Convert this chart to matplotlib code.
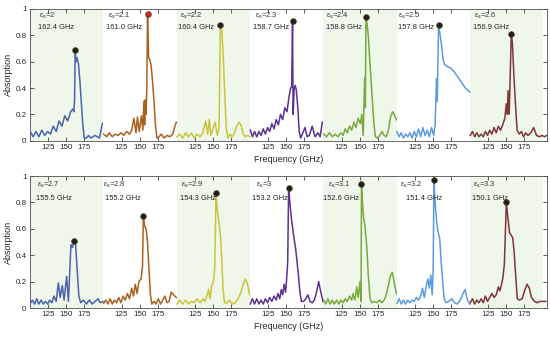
import numpy as np
import matplotlib.pyplot as plt

plt.rcParams['font.family'] = ['Liberation Sans', 'DejaVu Sans']

# spacing of the seven sub-panels along one shared x axis (GHz)
SEG = 101.85
XLIM = (99.6, 817.6)

# ---------------- data ----------------
eps_top = ['2', '2.1', '2.2', '2.3', '2.4', '2.5', '2.6']
res_top = [162.4, 161.0, 160.4, 158.7, 158.8, 157.8, 156.9]
eps_bot = ['2.7', '2.8', '2.9', '3', '3.1', '3.2', '3.3']
res_bot = [155.5, 155.2, 154.3, 153.2, 152.6, 151.4, 150.1]

# eps = 2.0
f_20 = [100, 104, 108, 112, 116, 120, 124, 128, 132, 136, 140, 144, 148, 152, 156, 159, 160.5, 161.5, 162.4, 163.5,
        165, 167, 169, 171, 173, 175, 178, 181, 184, 187, 190, 193, 196, 198, 200]
a_20 = [0.07, 0.03, 0.07, 0.03, 0.08, 0.04, 0.07, 0.05, 0.11, 0.07, 0.15, 0.11, 0.19, 0.15, 0.22, 0.24, 0.22, 0.30, 0.69, 0.60,
        0.63, 0.58, 0.45, 0.28, 0.12, 0.02, 0.02, 0.04, 0.02, 0.03, 0.04, 0.03, 0.02, 0.07, 0.13]
# eps = 2.1
f_21 = [100, 104, 108, 112, 116, 120, 124, 128, 132, 136, 139, 142, 145, 147, 149.5, 152.5, 154.5, 156, 157, 158,
        159, 160, 161, 162.5, 164, 166, 168, 170, 172, 174, 177, 180, 184, 188, 192, 196, 199, 201]
a_21 = [0.05, 0.03, 0.06, 0.03, 0.05, 0.04, 0.06, 0.04, 0.07, 0.05, 0.08, 0.17, 0.06, 0.18, 0.07, 0.19, 0.08, 0.30, 0.12, 0.31,
        0.20, 0.40, 0.96, 0.63, 0.62, 0.57, 0.45, 0.30, 0.12, 0.02, 0.03, 0.05, 0.02, 0.04, 0.03, 0.05, 0.11, 0.14]
# eps = 2.2
f_22 = [100, 104, 108, 112, 116, 120, 124, 128, 132, 136, 140, 142.5, 145, 147, 150, 153, 156, 158.5, 160.4, 162.5,
        164.5, 166.5, 168.5, 171, 174, 177, 180, 183, 186, 189, 192, 195, 198, 201]
a_22 = [0.03, 0.05, 0.02, 0.06, 0.03, 0.06, 0.02, 0.05, 0.03, 0.06, 0.15, 0.05, 0.16, 0.04, 0.09, 0.14, 0.04, 0.10, 0.88, 0.82,
        0.62, 0.34, 0.10, 0.02, 0.05, 0.03, 0.06, 0.11, 0.14, 0.12, 0.05, 0.03, 0.04, 0.03]
# eps = 2.3
f_23 = [100, 103, 106, 109, 112, 115, 118, 121, 124, 127, 130, 133, 136, 139, 142, 145, 148, 151, 154, 156,
        157.5, 158.7, 159.5, 161, 162.5, 164, 166, 168, 170, 173, 176, 179, 182, 186, 190, 194, 197, 200]
a_23 = [0.08, 0.03, 0.07, 0.03, 0.07, 0.04, 0.09, 0.05, 0.10, 0.07, 0.13, 0.09, 0.16, 0.12, 0.20, 0.16, 0.25, 0.22, 0.34, 0.40,
        0.41, 0.91, 0.20, 0.40, 0.42, 0.38, 0.25, 0.07, 0.02, 0.06, 0.10, 0.03, 0.04, 0.11, 0.03, 0.06, 0.03, 0.14]
# eps = 2.4
f_24 = [100, 104, 108, 112, 116, 120, 124, 127, 130, 133, 136, 139, 142, 145, 148, 151, 153, 155, 157, 158,
        158.8, 160.5, 162, 164, 166, 168, 170, 172, 175, 178, 181, 184, 187, 190, 193, 196, 198, 201]
a_24 = [0.05, 0.03, 0.06, 0.03, 0.05, 0.03, 0.06, 0.04, 0.09, 0.06, 0.11, 0.08, 0.14, 0.10, 0.17, 0.13, 0.20, 0.04, 0.48, 0.25,
        0.94, 0.88, 0.80, 0.62, 0.45, 0.28, 0.12, 0.03, 0.02, 0.04, 0.07, 0.04, 0.03, 0.08, 0.18, 0.22, 0.20, 0.16]
# eps = 2.5
f_25 = [100, 103, 106, 109, 112, 115, 118, 121, 124, 127, 130, 133, 136, 139, 142, 145, 148, 151, 153, 155,
        156, 157.8, 160, 162, 164, 166, 168, 171, 175, 180, 185, 190, 195, 201]
a_25 = [0.07, 0.03, 0.06, 0.02, 0.05, 0.03, 0.06, 0.02, 0.07, 0.03, 0.09, 0.03, 0.10, 0.04, 0.08, 0.03, 0.10, 0.04, 0.12, 0.47,
        0.30, 0.88, 0.80, 0.72, 0.62, 0.58, 0.57, 0.56, 0.55, 0.52, 0.48, 0.44, 0.40, 0.37]
# eps = 2.6
f_26 = [100, 103, 106, 109, 112, 115, 118, 121, 124, 127, 130, 133, 136, 139, 142, 145, 148, 150, 151.5, 152.5,
        154, 155.5, 156.9, 158.5, 160.5, 162.5, 165, 168, 171, 174, 177, 180, 184, 188, 192, 196, 200, 203, 206]
a_26 = [0.04, 0.07, 0.03, 0.06, 0.03, 0.05, 0.03, 0.07, 0.04, 0.08, 0.05, 0.10, 0.06, 0.11, 0.08, 0.12, 0.17, 0.28, 0.20, 0.38,
        0.20, 0.50, 0.81, 0.74, 0.50, 0.30, 0.08, 0.05, 0.07, 0.03, 0.06, 0.04, 0.06, 0.10, 0.04, 0.03, 0.04, 0.03, 0.04]
# eps = 2.7
f_27 = [100, 103, 106, 109, 112, 115, 118, 121, 124, 127, 130, 133, 136, 139, 141.5, 144.5, 147, 150.5, 153, 156.5,
        158.5, 161, 163, 165, 167.5, 170, 174, 178, 182, 186, 190, 194, 197, 201]
a_27 = [0.035, 0.06, 0.03, 0.07, 0.03, 0.06, 0.03, 0.05, 0.03, 0.06, 0.04, 0.09, 0.05, 0.19, 0.08, 0.17, 0.06, 0.24, 0.05, 0.48,
        0.46, 0.51, 0.48, 0.30, 0.09, 0.04, 0.06, 0.03, 0.06, 0.03, 0.05, 0.07, 0.04, 0.05]
# eps = 2.8
f_28 = [100, 103, 106, 109, 112, 115, 118, 121, 124, 127, 130, 133, 136, 139, 141.5, 144, 146.5, 149, 152, 154,
        155.2, 157, 159, 161, 163, 165, 167, 170, 173, 176, 179, 182, 185, 188, 191, 194, 197, 201]
a_28 = [0.035, 0.06, 0.03, 0.07, 0.03, 0.06, 0.04, 0.08, 0.04, 0.09, 0.06, 0.11, 0.07, 0.15, 0.09, 0.18, 0.11, 0.20, 0.22, 0.31,
        0.70, 0.62, 0.60, 0.50, 0.30, 0.10, 0.03, 0.05, 0.03, 0.07, 0.03, 0.06, 0.09, 0.04, 0.05, 0.12, 0.10, 0.08]
# eps = 2.9
f_29 = [100, 104, 108, 112, 116, 120, 124, 128, 132, 136, 139, 142, 144, 146, 148, 150.5, 152.5, 154.3, 156, 158,
        160, 162, 164, 166, 169, 173, 177, 181, 185, 189, 192, 195, 198, 201]
a_29 = [0.03, 0.06, 0.03, 0.06, 0.03, 0.05, 0.04, 0.07, 0.04, 0.07, 0.05, 0.10, 0.14, 0.07, 0.16, 0.20, 0.30, 0.87, 0.75, 0.66,
        0.58, 0.40, 0.15, 0.04, 0.04, 0.06, 0.03, 0.04, 0.07, 0.12, 0.18, 0.22, 0.18, 0.10]
# eps = 3.0
f_30 = [100, 103, 106, 109, 112, 115, 118, 121, 124, 127, 130, 133, 136, 138.5, 141, 143, 145, 147, 149, 150.5,
        152, 153.2, 155, 157, 159, 161, 163, 165, 167, 169, 171, 174, 177, 180, 183, 186, 189, 192, 195, 198, 201]
a_30 = [0.03, 0.07, 0.03, 0.07, 0.03, 0.06, 0.03, 0.07, 0.04, 0.08, 0.05, 0.09, 0.06, 0.11, 0.07, 0.14, 0.10, 0.18, 0.12, 0.22,
        0.35, 0.91, 0.80, 0.68, 0.60, 0.52, 0.45, 0.35, 0.24, 0.12, 0.05, 0.05, 0.07, 0.10, 0.05, 0.04, 0.06, 0.12, 0.20, 0.12,
        0.05]
# eps = 3.1
f_31 = [100, 103, 106, 109, 112, 115, 118, 121, 124, 127, 130, 133, 136, 139, 141, 143.5, 146, 148, 150.5, 152,
        152.6, 154, 155.5, 157.5, 160, 162, 164.5, 167, 170, 174, 178, 181, 184, 187, 190, 192.5, 195.5, 198.5, 201]
a_31 = [0.06, 0.03, 0.07, 0.03, 0.06, 0.03, 0.06, 0.03, 0.06, 0.04, 0.07, 0.05, 0.09, 0.06, 0.11, 0.06, 0.16, 0.08, 0.20, 0.05,
        0.94, 0.80, 0.68, 0.62, 0.46, 0.25, 0.07, 0.04, 0.05, 0.04, 0.06, 0.04, 0.06, 0.10, 0.17, 0.24, 0.27, 0.18, 0.11]
# eps = 3.2
f_32 = [100, 103, 106, 109, 112, 115, 118, 121, 124, 127, 130, 133, 135.5, 138, 140.5, 143, 145, 147, 149, 150.3,
        151.4, 153, 155, 157, 159.5, 161.5, 163.5, 165.5, 168, 172, 176, 180, 184, 188, 191, 194.5, 198, 201]
a_32 = [0.035, 0.07, 0.03, 0.06, 0.03, 0.06, 0.04, 0.06, 0.05, 0.08, 0.06, 0.09, 0.15, 0.08, 0.16, 0.22, 0.15, 0.25, 0.10, 0.30,
        0.97, 0.80, 0.66, 0.58, 0.52, 0.34, 0.20, 0.07, 0.04, 0.05, 0.07, 0.04, 0.03, 0.06, 0.10, 0.14, 0.06, 0.03]
# eps = 3.3
f_33 = [100, 103, 106, 109, 112, 115, 118, 121, 124, 127, 130, 133, 136, 139, 141, 143, 145, 147.3, 150.1, 151.5,
        154.5, 157, 159, 161, 163, 165.3, 168, 172, 176, 179, 182, 185, 189, 193, 197, 201, 205]
a_33 = [0.04, 0.07, 0.03, 0.06, 0.04, 0.07, 0.04, 0.09, 0.05, 0.08, 0.11, 0.08, 0.10, 0.16, 0.13, 0.17, 0.22, 0.33, 0.80, 0.72,
        0.57, 0.55, 0.53, 0.42, 0.25, 0.07, 0.06, 0.07, 0.14, 0.18, 0.15, 0.08, 0.05, 0.04, 0.05, 0.05, 0.05]

top_curves = [(f_20, a_20), (f_21, a_21), (f_22, a_22), (f_23, a_23), (f_24, a_24), (f_25, a_25), (f_26, a_26)]
bot_curves = [(f_27, a_27), (f_28, a_28), (f_29, a_29), (f_30, a_30), (f_31, a_31), (f_32, a_32), (f_33, a_33)]

colors = ['#4b62ad', '#a8611f', '#c9c43c', '#5b3290', '#79a83f', '#5c9be4', '#7d3636']

# label x positions (GHz inside each panel)
eps_x_top = [112, 106, 104, 106, 103, 102, 105]
res_x_top = [111, 104, 102, 104, 103, 102, 104]
eps_x_bot = [110, 99, 106, 108, 106, 104, 104]
res_x_bot = [108, 102, 104, 102, 99, 112, 102]


def draw_row(ax, curves, eps, res, eps_x, res_x, y_eps, y_res, red_marker=None):
    for k in (0, 2, 4, 6):
        ax.axvspan(XLIM[0] + k * SEG, XLIM[0] + (k + 1) * SEG, color='#eff7eb', lw=0, zorder=0)
    for k, (f, a) in enumerate(curves):
        f = np.asarray(f, float) + k * SEG
        a = np.asarray(a, float)
        ax.plot(f, a, color=colors[k], lw=1.1, zorder=3)
        i = int(np.argmax(a))
        fc = '#d42424' if k == red_marker else '#1e1e1e'
        ax.plot(f[i], a[i], 'o', ms=4, mfc=fc, mec='#4a3d12', mew=0.6, zorder=5)
        ax.text(eps_x[k] + k * SEG, y_eps, r'ε$_\mathrm{s}$=' + eps[k], fontsize=5.4,
                va='center', ha='left', color='#333333')
        ax.text(res_x[k] + k * SEG, y_res, f'{res[k]:.1f} GHz', fontsize=5.4,
                va='center', ha='left', color='#222222')

    ax.set_xlim(*XLIM)
    ax.set_ylim(0, 1)
    ticks = [t + k * SEG for k in range(7) for t in (125, 150, 175)]
    ax.set_xticks(ticks)
    ax.set_xticklabels(['125', '150', '175'] * 7)
    ax.set_yticks([0, 0.2, 0.4, 0.6, 0.8, 1])
    ax.set_yticklabels(['0', '0.2', '0.4', '0.6', '0.8', '1'])
    ax.tick_params(direction='in', top=True, right=True, length=3, width=0.6,
                   labelsize=5.8, pad=2.5, colors='#404040', labelcolor='#262626')
    for s in ax.spines.values():
        s.set_linewidth(0.6)
        s.set_color('#505050')
    ax.set_xlabel('Frequency (GHz)', fontsize=6.5, labelpad=2.5, color='#262626')
    ax.set_ylabel('Absorption', fontsize=6.5, labelpad=2, color='#262626')


fig = plt.figure(figsize=(5.5, 3.37), dpi=100)
ax_top = fig.add_axes([0.0545, 0.5825, 0.94, 0.3908])
ax_bot = fig.add_axes([0.0545, 0.086, 0.94, 0.3917])

draw_row(ax_top, top_curves, eps_top, res_top, eps_x_top, res_x_top, 0.947, 0.856, red_marker=1)
draw_row(ax_bot, bot_curves, eps_bot, res_bot, eps_x_bot, res_x_bot, 0.932, 0.833)

fig.savefig('out.png', dpi=100)
